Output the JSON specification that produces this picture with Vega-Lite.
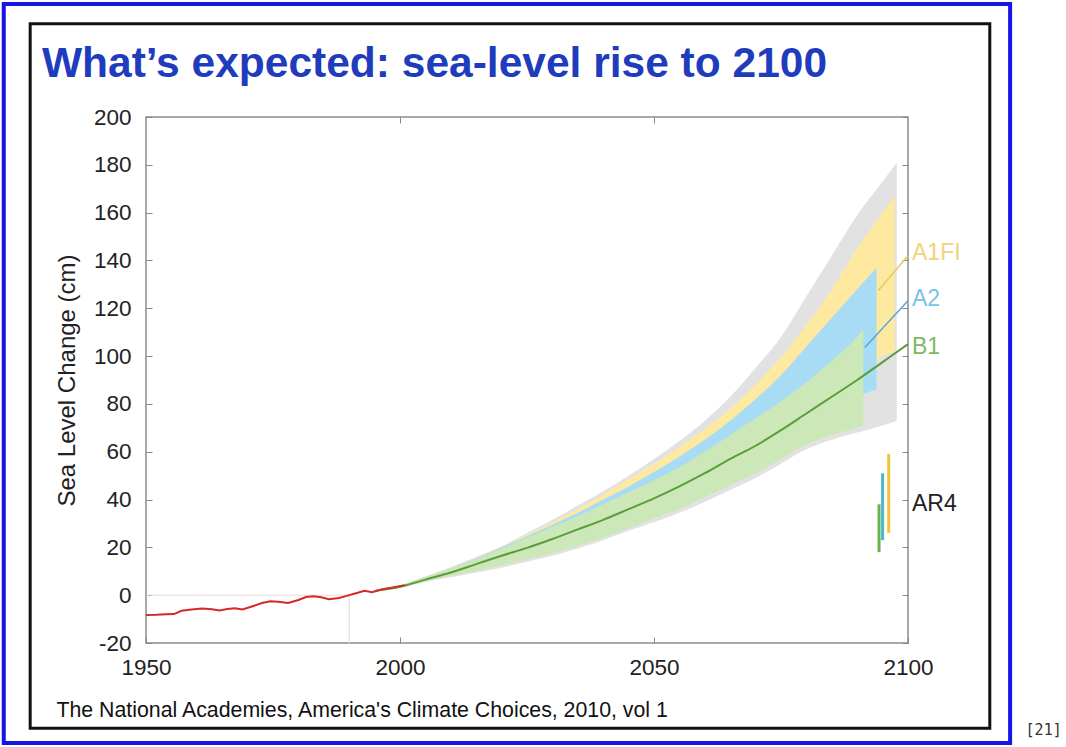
{
  "$schema": "https://vega.github.io/schema/vega-lite/v6.json",
  "width": 762,
  "height": 526,
  "autosize": "none",
  "padding": {"left": 146, "top": 117, "right": 158, "bottom": 104},
  "background": "white",
  "title": {
    "text": "What’s expected: sea-level rise to 2100",
    "anchor": "start",
    "frame": "group",
    "dx": -104,
    "dy": 118,
    "offset": 0,
    "baseline": "alphabetic",
    "font": "Liberation Sans",
    "fontSize": 42.5,
    "fontWeight": "bold",
    "color": "#1f3cbd"
  },
  "config": {
    "view": {"stroke": "#8c8c8c", "strokeWidth": 1.5},
    "axis": {"grid": false, "domain": false, "labelFont": "Liberation Sans", "titleFont": "Liberation Sans"},
    "font": "Liberation Sans"
  },
  "resolve": {"axis": {"x": "independent", "y": "independent"}, "scale": {"color": "independent"}},
  "datasets": {
    "observed": [
      {"year": 1950, "cm": -8.3}, {"year": 1952, "cm": -8.2}, {"year": 1954, "cm": -8.0},
      {"year": 1955.5, "cm": -7.9}, {"year": 1957, "cm": -6.5}, {"year": 1959, "cm": -6.0},
      {"year": 1961, "cm": -5.6}, {"year": 1963, "cm": -5.9}, {"year": 1964.5, "cm": -6.4},
      {"year": 1966, "cm": -5.8}, {"year": 1967.5, "cm": -5.5}, {"year": 1969, "cm": -6.0},
      {"year": 1971, "cm": -4.6}, {"year": 1973, "cm": -3.2}, {"year": 1974.5, "cm": -2.5},
      {"year": 1976, "cm": -2.7}, {"year": 1978, "cm": -3.3}, {"year": 1980, "cm": -2.0},
      {"year": 1981.5, "cm": -0.8}, {"year": 1983, "cm": -0.5}, {"year": 1984.5, "cm": -0.9},
      {"year": 1986, "cm": -1.7}, {"year": 1988, "cm": -1.2}, {"year": 1989.5, "cm": -0.3},
      {"year": 1991, "cm": 0.6}, {"year": 1993, "cm": 1.8}, {"year": 1994.5, "cm": 1.2},
      {"year": 1996.5, "cm": 2.5}, {"year": 1998.5, "cm": 3.2}, {"year": 2001, "cm": 4.2}
    ],
    "central": [
      {"year": 1995, "cm": 1.8}, {"year": 2000, "cm": 3.5}, {"year": 2005, "cm": 6.5},
      {"year": 2010, "cm": 9.5}, {"year": 2015, "cm": 13}, {"year": 2020, "cm": 16.5},
      {"year": 2025, "cm": 19.8}, {"year": 2030, "cm": 23.5}, {"year": 2035, "cm": 27.5},
      {"year": 2040, "cm": 31.5}, {"year": 2045, "cm": 36}, {"year": 2050, "cm": 40.5},
      {"year": 2055, "cm": 45.5}, {"year": 2060, "cm": 51}, {"year": 2065, "cm": 57},
      {"year": 2070, "cm": 62.5}, {"year": 2075, "cm": 69}, {"year": 2080, "cm": 76},
      {"year": 2085, "cm": 83}, {"year": 2090, "cm": 90}, {"year": 2095, "cm": 97.5},
      {"year": 2100, "cm": 105}
    ],
    "bands": [
      {"s": "all", "year": 1995, "lo": 1.5, "hi": 2.1},
      {"s": "all", "year": 2000, "lo": 3, "hi": 4.2},
      {"s": "all", "year": 2005, "lo": 5.5, "hi": 7.8},
      {"s": "all", "year": 2010, "lo": 7.5, "hi": 11.8},
      {"s": "all", "year": 2015, "lo": 9.5, "hi": 16},
      {"s": "all", "year": 2020, "lo": 11.5, "hi": 20.5},
      {"s": "all", "year": 2025, "lo": 14, "hi": 26},
      {"s": "all", "year": 2030, "lo": 16.5, "hi": 31.5},
      {"s": "all", "year": 2035, "lo": 19.5, "hi": 37.5},
      {"s": "all", "year": 2040, "lo": 23, "hi": 43.5},
      {"s": "all", "year": 2045, "lo": 27, "hi": 50},
      {"s": "all", "year": 2050, "lo": 30.5, "hi": 57},
      {"s": "all", "year": 2055, "lo": 34.5, "hi": 64.5},
      {"s": "all", "year": 2060, "lo": 39, "hi": 73},
      {"s": "all", "year": 2065, "lo": 44, "hi": 83},
      {"s": "all", "year": 2070, "lo": 49, "hi": 95},
      {"s": "all", "year": 2075, "lo": 55, "hi": 108},
      {"s": "all", "year": 2080, "lo": 61, "hi": 125},
      {"s": "all", "year": 2085, "lo": 65, "hi": 142},
      {"s": "all", "year": 2090, "lo": 68, "hi": 159},
      {"s": "all", "year": 2095, "lo": 71, "hi": 173},
      {"s": "all", "year": 2097.8, "lo": 73, "hi": 181},
      {"s": "A1FI", "year": 1995, "lo": 1.5, "hi": 2.1},
      {"s": "A1FI", "year": 2000, "lo": 3.3, "hi": 4.1},
      {"s": "A1FI", "year": 2005, "lo": 6.2, "hi": 7.7},
      {"s": "A1FI", "year": 2010, "lo": 8.6, "hi": 11.4},
      {"s": "A1FI", "year": 2015, "lo": 11, "hi": 15.6},
      {"s": "A1FI", "year": 2020, "lo": 13.5, "hi": 20.3},
      {"s": "A1FI", "year": 2025, "lo": 16.2, "hi": 25.3},
      {"s": "A1FI", "year": 2030, "lo": 19.2, "hi": 30.5},
      {"s": "A1FI", "year": 2035, "lo": 22.5, "hi": 36},
      {"s": "A1FI", "year": 2040, "lo": 26, "hi": 42},
      {"s": "A1FI", "year": 2045, "lo": 30, "hi": 48.5},
      {"s": "A1FI", "year": 2050, "lo": 34.5, "hi": 55},
      {"s": "A1FI", "year": 2055, "lo": 39.5, "hi": 62},
      {"s": "A1FI", "year": 2060, "lo": 45, "hi": 69.5},
      {"s": "A1FI", "year": 2065, "lo": 51, "hi": 78},
      {"s": "A1FI", "year": 2070, "lo": 58, "hi": 88},
      {"s": "A1FI", "year": 2075, "lo": 65.5, "hi": 99.5},
      {"s": "A1FI", "year": 2080, "lo": 74, "hi": 113},
      {"s": "A1FI", "year": 2085, "lo": 83, "hi": 128},
      {"s": "A1FI", "year": 2090, "lo": 92, "hi": 145},
      {"s": "A1FI", "year": 2095, "lo": 100, "hi": 160},
      {"s": "A1FI", "year": 2097.4, "lo": 102, "hi": 167},
      {"s": "A2", "year": 1995, "lo": 1.5, "hi": 2.1},
      {"s": "A2", "year": 2000, "lo": 3.2, "hi": 4},
      {"s": "A2", "year": 2005, "lo": 6, "hi": 7.6},
      {"s": "A2", "year": 2010, "lo": 8.3, "hi": 11.2},
      {"s": "A2", "year": 2015, "lo": 10.5, "hi": 15.3},
      {"s": "A2", "year": 2020, "lo": 13, "hi": 20},
      {"s": "A2", "year": 2025, "lo": 15.5, "hi": 24.7},
      {"s": "A2", "year": 2030, "lo": 18.5, "hi": 29.5},
      {"s": "A2", "year": 2035, "lo": 21.5, "hi": 34.5},
      {"s": "A2", "year": 2040, "lo": 25, "hi": 40},
      {"s": "A2", "year": 2045, "lo": 29, "hi": 45.5},
      {"s": "A2", "year": 2050, "lo": 33, "hi": 51.5},
      {"s": "A2", "year": 2055, "lo": 37.5, "hi": 58},
      {"s": "A2", "year": 2060, "lo": 43, "hi": 65},
      {"s": "A2", "year": 2065, "lo": 49, "hi": 73},
      {"s": "A2", "year": 2070, "lo": 55, "hi": 82},
      {"s": "A2", "year": 2075, "lo": 62, "hi": 92},
      {"s": "A2", "year": 2080, "lo": 70, "hi": 104},
      {"s": "A2", "year": 2085, "lo": 77, "hi": 116},
      {"s": "A2", "year": 2090, "lo": 83, "hi": 128},
      {"s": "A2", "year": 2093.8, "lo": 86, "hi": 137},
      {"s": "B1", "year": 1995, "lo": 1.5, "hi": 2.1},
      {"s": "B1", "year": 2000, "lo": 3, "hi": 4},
      {"s": "B1", "year": 2005, "lo": 5.8, "hi": 7.5},
      {"s": "B1", "year": 2010, "lo": 8, "hi": 11},
      {"s": "B1", "year": 2015, "lo": 10, "hi": 15},
      {"s": "B1", "year": 2020, "lo": 12.5, "hi": 19.5},
      {"s": "B1", "year": 2025, "lo": 15, "hi": 24},
      {"s": "B1", "year": 2030, "lo": 17.5, "hi": 28.5},
      {"s": "B1", "year": 2035, "lo": 20.5, "hi": 33},
      {"s": "B1", "year": 2040, "lo": 24, "hi": 38},
      {"s": "B1", "year": 2045, "lo": 28, "hi": 43},
      {"s": "B1", "year": 2050, "lo": 32, "hi": 48},
      {"s": "B1", "year": 2055, "lo": 36, "hi": 53.5},
      {"s": "B1", "year": 2060, "lo": 41, "hi": 60},
      {"s": "B1", "year": 2065, "lo": 46, "hi": 67},
      {"s": "B1", "year": 2070, "lo": 51, "hi": 74},
      {"s": "B1", "year": 2075, "lo": 57, "hi": 81},
      {"s": "B1", "year": 2080, "lo": 63, "hi": 89},
      {"s": "B1", "year": 2085, "lo": 67, "hi": 98},
      {"s": "B1", "year": 2090, "lo": 70, "hi": 108},
      {"s": "B1", "year": 2091.2, "lo": 71, "hi": 111}
    ],
    "leaders": [
      {"s": "A1FI", "year": 2094.1, "cm": 127.3}, {"s": "A1FI", "year": 2100, "cm": 142},
      {"s": "A2", "year": 2091.5, "cm": 103.6}, {"s": "A2", "year": 2100, "cm": 123.1}
    ],
    "ar4": [
      {"s": "B1", "year": 2094.3, "lo": 18, "hi": 38},
      {"s": "A2", "year": 2095, "lo": 23, "hi": 51},
      {"s": "A1FI", "year": 2096.2, "lo": 26, "hi": 59}
    ],
    "labels": [
      {"label": "A1FI", "year": 2100, "cm": 143},
      {"label": "A2", "year": 2100, "cm": 124},
      {"label": "B1", "year": 2100, "cm": 104},
      {"label": "AR4", "year": 2100, "cm": 38}
    ]
  },
  "layer": [
    {
      "data": {"values": [{}]},
      "mark": {"type": "rect", "filled": false, "color": "#1515e8", "strokeWidth": 4},
      "encoding": {
        "x": {"datum": 1922, "type": "quantitative", "axis": null},
        "x2": {"datum": 2120.1},
        "y": {"datum": 247.3, "type": "quantitative", "axis": null},
        "y2": {"datum": -61.8}
      }
    },
    {
      "data": {"values": [{}]},
      "mark": {"type": "rect", "filled": false, "color": "#111111", "strokeWidth": 3},
      "encoding": {
        "x": {"datum": 1927.2, "type": "quantitative", "axis": null},
        "x2": {"datum": 2116.1},
        "y": {"datum": 239, "type": "quantitative", "axis": null},
        "y2": {"datum": -55.7}
      }
    },
    {
      "data": {"name": "bands"},
      "transform": [{"filter": "datum.s === 'all'"}],
      "mark": {"type": "area", "color": "#e2e2e2", "interpolate": "monotone"},
      "encoding": {
        "x": {"field": "year", "type": "quantitative", "axis": null},
        "y": {"field": "hi", "type": "quantitative", "axis": null},
        "y2": {"field": "lo"}
      }
    },
    {
      "data": {"name": "bands"},
      "transform": [{"filter": "datum.s === 'A1FI'"}],
      "mark": {"type": "area", "color": "#fde9a0", "interpolate": "monotone"},
      "encoding": {
        "x": {"field": "year", "type": "quantitative", "axis": null},
        "y": {"field": "hi", "type": "quantitative", "axis": null},
        "y2": {"field": "lo"}
      }
    },
    {
      "data": {"name": "bands"},
      "transform": [{"filter": "datum.s === 'A2'"}],
      "mark": {"type": "area", "color": "#a8dcf5", "interpolate": "monotone"},
      "encoding": {
        "x": {"field": "year", "type": "quantitative", "axis": null},
        "y": {"field": "hi", "type": "quantitative", "axis": null},
        "y2": {"field": "lo"}
      }
    },
    {
      "data": {"name": "bands"},
      "transform": [{"filter": "datum.s === 'B1'"}],
      "mark": {"type": "area", "color": "#cde8b8", "interpolate": "monotone"},
      "encoding": {
        "x": {"field": "year", "type": "quantitative", "axis": null},
        "y": {"field": "hi", "type": "quantitative", "axis": null},
        "y2": {"field": "lo"}
      }
    },
    {
      "data": {"values": [{}]},
      "mark": {"type": "rule", "color": "#e6dada", "strokeWidth": 1},
      "encoding": {
        "x": {"datum": 1950, "type": "quantitative", "axis": null},
        "x2": {"datum": 1990},
        "y": {"datum": 0, "type": "quantitative", "axis": null}
      }
    },
    {
      "data": {"values": [{}]},
      "mark": {"type": "rule", "color": "#e6dada", "strokeWidth": 1},
      "encoding": {
        "x": {"datum": 1990, "type": "quantitative", "axis": null},
        "y": {"datum": -20, "type": "quantitative", "axis": null},
        "y2": {"datum": 0}
      }
    },
    {
      "data": {"name": "central"},
      "mark": {"type": "line", "color": "#5a9e3a", "strokeWidth": 2, "interpolate": "monotone"},
      "encoding": {
        "x": {"field": "year", "type": "quantitative", "scale": {"domain": [1950, 2100], "nice": false, "zero": false},
              "axis": {"orient": "top", "values": [2000, 2050], "labels": false, "tickSize": -6, "tickColor": "#888888", "domain": false, "title": null}},
        "y": {"field": "cm", "type": "quantitative", "scale": {"domain": [-20, 200], "nice": false, "zero": false},
              "axis": {"orient": "right", "values": [-20, 0, 20, 40, 60, 80, 100, 120, 140, 160, 180, 200], "labels": false, "tickSize": -6, "tickColor": "#888888", "domain": false, "title": null}}
      }
    },
    {
      "data": {"name": "observed"},
      "mark": {"type": "line", "color": "#d62828", "strokeWidth": 2},
      "encoding": {
        "x": {"field": "year", "type": "quantitative",
              "axis": {"orient": "bottom", "values": [1950, 2000, 2050, 2100], "tickSize": -6, "tickColor": "#888888", "domain": false,
                       "labelExpr": "'' + datum.value",
                       "labelFontSize": 22.5, "labelColor": "#222222", "labelPadding": 19, "labelFlush": false,
                       "title": "The National Academies, America's Climate Choices, 2010, vol 1",
                       "titleFontSize": 21.3, "titleFontWeight": "normal", "titleColor": "#111111",
                       "titleAnchor": "start", "titleAlign": "left", "titleBaseline": "alphabetic", "titleX": -90, "titleY": 73}},
        "y": {"field": "cm", "type": "quantitative",
              "axis": {"orient": "left", "values": [-20, 0, 20, 40, 60, 80, 100, 120, 140, 160, 180, 200], "tickSize": -6, "tickColor": "#888888", "domain": false,
                       "labelExpr": "'' + datum.value",
                       "labelFontSize": 22.5, "labelColor": "#222222", "labelPadding": 21, "labelFlush": false,
                       "title": "Sea Level Change (cm)", "titleFontSize": 24, "titleFontWeight": "normal", "titleColor": "#222222", "titlePadding": 14}}
      }
    },
    {
      "data": {"name": "leaders"},
      "mark": {"type": "line", "strokeWidth": 1.5},
      "encoding": {
        "x": {"field": "year", "type": "quantitative", "axis": null},
        "y": {"field": "cm", "type": "quantitative", "axis": null},
        "detail": {"field": "s"},
        "color": {"field": "s", "type": "nominal", "legend": null,
                  "scale": {"domain": ["A1FI", "A2"], "range": ["#e8c860", "#5aa6dc"]}}
      }
    },
    {
      "data": {"name": "ar4"},
      "mark": {"type": "rule", "strokeWidth": 3},
      "encoding": {
        "x": {"field": "year", "type": "quantitative", "axis": null},
        "y": {"field": "lo", "type": "quantitative", "axis": null},
        "y2": {"field": "hi"},
        "color": {"field": "s", "type": "nominal", "legend": null,
                  "scale": {"domain": ["B1", "A2", "A1FI"], "range": ["#6cb04a", "#4ab8c8", "#f2c43a"]}}
      }
    },
    {
      "data": {"name": "labels"},
      "mark": {"type": "text", "align": "left", "baseline": "middle", "dx": 4, "fontSize": 23, "font": "Liberation Sans"},
      "encoding": {
        "x": {"field": "year", "type": "quantitative", "axis": null},
        "y": {"field": "cm", "type": "quantitative", "axis": null},
        "text": {"field": "label"},
        "color": {"field": "label", "type": "nominal", "legend": null,
                  "scale": {"domain": ["A1FI", "A2", "B1", "AR4"], "range": ["#f0d47a", "#78c4e4", "#80b860", "#222222"]}}
      }
    },
    {
      "data": {"values": [{}]},
      "mark": {"type": "text", "text": "[21]", "fontSize": 15, "font": "DejaVu Sans Mono", "color": "#333333", "align": "center", "baseline": "middle"},
      "encoding": {
        "x": {"datum": 2126.7, "type": "quantitative", "axis": null},
        "y": {"datum": -56.5, "type": "quantitative", "axis": null}
      }
    }
  ]
}
